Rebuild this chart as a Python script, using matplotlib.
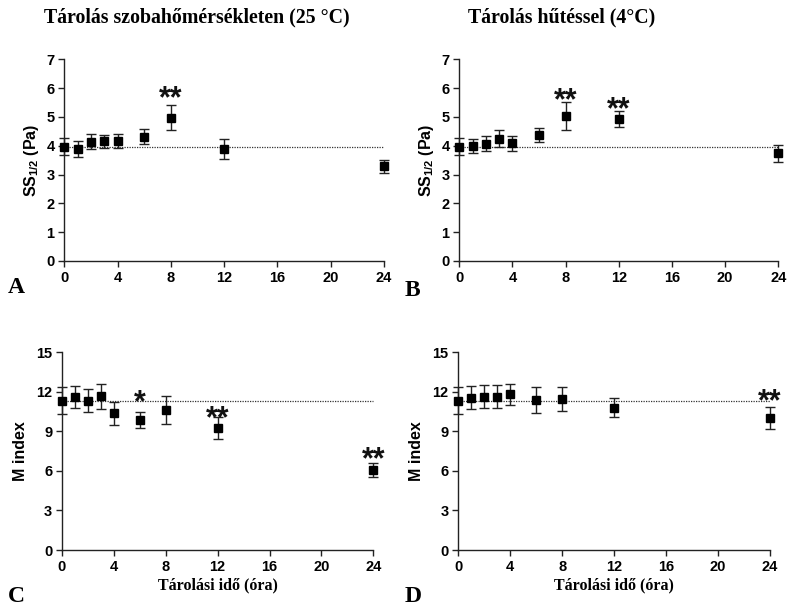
import matplotlib
matplotlib.use("Agg")
import matplotlib.pyplot as plt
from matplotlib.font_manager import FontProperties

# Storage time points (hours)
hours = [0, 1, 2, 3, 4, 6, 8, 12, 24]

# A: SS1/2 at room temperature (25 °C)
ss_room_mean = [3.97, 3.89, 4.14, 4.15, 4.17, 4.32, 4.98, 3.89, 3.28]
ss_room_err = [0.30, 0.28, 0.26, 0.24, 0.25, 0.25, 0.45, 0.35, 0.22]
ss_room_stars = {8: "**"}

# B: SS1/2 refrigerated (4 °C)
ss_cold_mean = [3.97, 3.99, 4.07, 4.24, 4.09, 4.37, 5.03, 4.93, 3.74]
ss_cold_err = [0.29, 0.24, 0.26, 0.29, 0.26, 0.23, 0.49, 0.29, 0.29]
ss_cold_stars = {8: "**", 12: "**"}

# C: M index at room temperature
m_room_mean = [11.33, 11.59, 11.33, 11.66, 10.37, 9.87, 10.62, 9.23, 6.07]
m_room_err = [1.02, 0.82, 0.85, 0.97, 0.88, 0.60, 1.04, 0.83, 0.56]
m_room_stars = {6: "*", 12: "**", 24: "**"}

# D: M index refrigerated
m_cold_mean = [11.33, 11.56, 11.64, 11.64, 11.81, 11.38, 11.46, 10.80, 9.99]
m_cold_err = [1.02, 0.85, 0.88, 0.88, 0.81, 0.96, 0.92, 0.72, 0.84]
m_cold_stars = {24: "**"}

# vertical placement of the significance marks (data units, centre of glyph)
ss_room_star_y = {8: 5.93}
ss_cold_star_y = {8: 5.85, 12: 5.56}
m_room_star_y = {6: 11.84, 12: 10.62, 24: 7.51}
m_cold_star_y = {24: 11.9}

x_ticks = [0, 4, 8, 12, 16, 20, 24]
ss_ticks = [0, 1, 2, 3, 4, 5, 6, 7]
m_ticks = [0, 3, 6, 9, 12, 15]

titles = ["Tárolás szobahőmérsékleten (25 °C)", "Tárolás hűtéssel (4°C)"]
ss_label = r"SS$_{\mathbf{1/2}}$ (Pa)"
m_label = "M index"
x_label = "Tárolási idő (óra)"

SERIF = ["Liberation Serif", "DejaVu Serif"]
SANS = ["Liberation Sans", "DejaVu Sans"]
plt.rcParams["font.family"] = SANS
plt.rcParams["font.weight"] = "bold"
plt.rcParams["axes.labelweight"] = "bold"
plt.rcParams["mathtext.fontset"] = "custom"
plt.rcParams["mathtext.rm"] = "Liberation Sans:bold"
plt.rcParams["mathtext.bf"] = "Liberation Sans:bold"

W, H = 788, 608
fig = plt.figure(figsize=(W / 100, H / 100), dpi=100)


def px_axes(left, right, top, bottom):
    return fig.add_axes([left / W, 1 - bottom / H, (right - left) / W, (bottom - top) / H])


STAR_FS = 22


def panel(ax, mean, err, stars, star_y, yticks, ylabel, ylabelpad):
    axc = "#222222"
    ax.set_xlim(0, 24)
    ax.set_ylim(yticks[0], yticks[-1])
    # baseline reference at the t=0 value
    ax.plot([0, 24], [mean[0], mean[0]], linestyle=(0, (1, 1)), color="#333333",
            linewidth=0.9, zorder=1, clip_on=False)
    ax.errorbar(hours, mean, yerr=err, fmt="s", color="black", markersize=5.5,
                ecolor="#222222", elinewidth=1.0, capsize=3.3, capthick=1.0,
                clip_on=False, zorder=3)
    star_fp = FontProperties(family=SANS, weight="bold", size=STAR_FS)
    for h, s in stars.items():
        ax.annotate(s, (h, star_y[h]), xytext=(0, -0.555 * STAR_FS),
                    textcoords="offset points", ha="center", va="baseline",
                    fontproperties=star_fp, color="#111111", annotation_clip=False)
    for side in ("top", "right"):
        ax.spines[side].set_visible(False)
    for side in ("left", "bottom"):
        ax.spines[side].set_color(axc)
        ax.spines[side].set_linewidth(1.0)
    ax.set_xticks(x_ticks)
    ax.set_yticks(yticks)
    ax.tick_params(direction="out", length=4, width=1.0, color=axc, pad=3,
                   labelsize=10.5)
    ax.set_ylabel(ylabel, fontsize=11.5, fontweight="bold", labelpad=ylabelpad)


axA = px_axes(64.3, 384, 59.3, 261)
axB = px_axes(459.3, 778.3, 59.3, 261)
axC = px_axes(62, 373.3, 352.3, 550)
axD = px_axes(458.3, 770, 352.3, 550)

panel(axA, ss_room_mean, ss_room_err, ss_room_stars, ss_room_star_y, ss_ticks, ss_label, 4)
panel(axB, ss_cold_mean, ss_cold_err, ss_cold_stars, ss_cold_star_y, ss_ticks, ss_label, 4)
panel(axC, m_room_mean, m_room_err, m_room_stars, m_room_star_y, m_ticks, m_label, 6)
panel(axD, m_cold_mean, m_cold_err, m_cold_stars, m_cold_star_y, m_ticks, m_label, 6)

xlab_fp = FontProperties(family=SERIF, weight="bold", size=11.5)
for ax in (axC, axD):
    ax.set_xlabel(x_label, fontproperties=xlab_fp, labelpad=3)

title_fp = FontProperties(family=SERIF, weight="bold", size=14.3)
fig.text(197 / W, 1 - 17 / H, titles[0], ha="center", va="center", fontproperties=title_fp)
fig.text(562 / W, 1 - 17 / H, titles[1], ha="center", va="center", fontproperties=title_fp)

letter_fp = FontProperties(family=SERIF, weight="bold", size=17)
for letter, (lx, ly) in zip("ABCD", [(8, 288), (405, 290), (8, 597), (405, 597)]):
    fig.text(lx / W, 1 - ly / H, letter, ha="left", va="center", fontproperties=letter_fp)

fig.savefig("out.png", dpi=100)
